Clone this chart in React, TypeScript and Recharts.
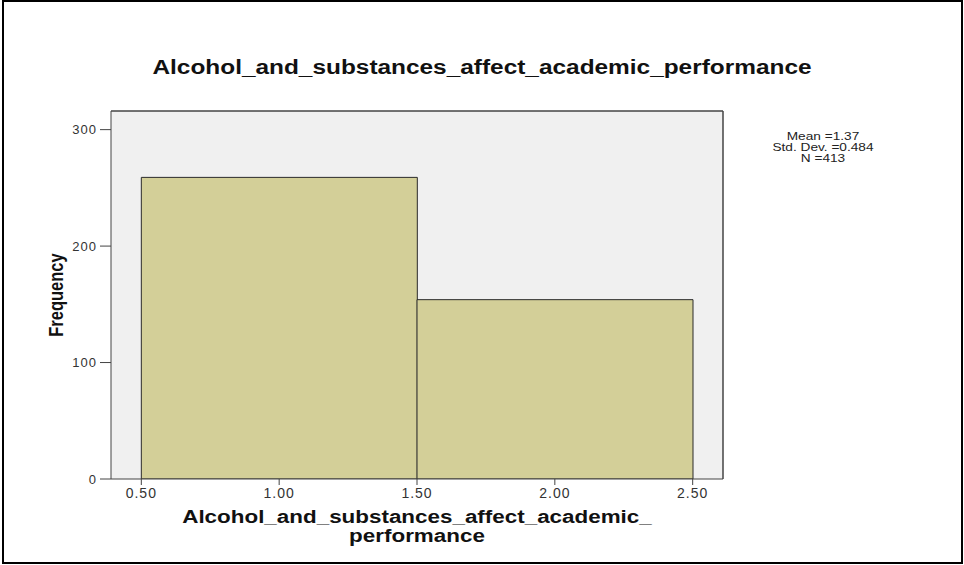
import React from 'react';
import { ComposedChart, Bar, XAxis, YAxis, CartesianGrid, ReferenceLine } from 'recharts';

// histogram bins: centre of each bin and its count
const binMids = [1.0, 2.0];
const binCounts = [259, 154];

const xDomain = [0.39, 2.61];
const yDomain = [0, 316];
const xTicks = [0.5, 1.0, 1.5, 2.0, 2.5];
const yTicks = [0, 100, 200, 300];

const title = 'Alcohol_and_substances_affect_academic_performance';
const xLabelLines = ['Alcohol_and_substances_affect_academic_', 'performance'];
const yLabel = 'Frequency';
const statsLines = ['Mean =1.37', 'Std. Dev. =0.484', 'N =413'];

const data = binMids.map((mid, i) => ({ mid, count: binCounts[i] }));

const FONT = 'Arial, "Liberation Sans", Helvetica, sans-serif';

export default function App() {
  return (
    <div style={{ position: 'absolute', left: 0, top: 0, width: 964, height: 565, background: '#fff', fontFamily: FONT }}>
      <div style={{ position: 'absolute', left: 2, top: 0, width: 961, height: 564, border: '2px solid #000', boxSizing: 'border-box' }} />

      <ComposedChart
        width={964}
        height={565}
        data={data}
        margin={{ top: 111, right: 241, bottom: 56, left: 51 }}
        barCategoryGap={0}
        barGap={0}
        style={{ position: 'absolute', left: 0, top: 0 }}
      >
        <CartesianGrid fill="#f0f0f0" horizontal={false} vertical={false} />
        <XAxis
          dataKey="mid"
          type="number"
          domain={xDomain}
          ticks={xTicks}
          allowDataOverflow
          tickFormatter={(v: number) => v.toFixed(2)}
          height={30}
          tickSize={6}
          tickMargin={3}
          stroke="#444"
          tick={{ fill: '#333', fontSize: 14, letterSpacing: 1, fontFamily: FONT }}
        />
        <YAxis
          domain={yDomain}
          ticks={yTicks}
          allowDataOverflow
          width={60}
          tickSize={11}
          tickMargin={3}
          stroke="#444"
          tick={{ fill: '#333', fontSize: 13, letterSpacing: 1, fontFamily: FONT }}
        />
        <Bar dataKey="count" fill="#d3cf98" stroke="#2a2a2a" strokeWidth={1} isAnimationActive={false} />
        <ReferenceLine y={yDomain[1]} stroke="#444" strokeWidth={1.5} ifOverflow="visible" />
        <ReferenceLine x={xDomain[1]} stroke="#444" strokeWidth={1.5} ifOverflow="visible" />
      </ComposedChart>

      <div style={{ position: 'absolute', left: 0, width: 964, top: 56, textAlign: 'center', fontSize: 20, fontWeight: 'bold', color: '#111', transform: 'scaleX(1.22)' }}>
        {title}
      </div>

      <div style={{ position: 'absolute', left: 111, width: 612, top: 508, textAlign: 'center', fontSize: 18, fontWeight: 'bold', color: '#111', lineHeight: '19px', transform: 'scaleX(1.245)' }}>
        {xLabelLines.map((l) => (
          <div key={l}>{l}</div>
        ))}
      </div>

      <div
        style={{
          position: 'absolute',
          left: 56,
          top: 295,
          transform: 'translate(-50%, -50%) scaleX(1.25) rotate(-90deg)',
          fontSize: 16.5,
          fontWeight: 'bold',
          color: '#111',
          whiteSpace: 'nowrap',
        }}
      >
        {yLabel}
      </div>

      <div style={{ position: 'absolute', left: 773, width: 100, top: 131, textAlign: 'center', fontSize: 10.5, lineHeight: '11px', color: '#222', transform: 'scaleX(1.3)' }}>
        {statsLines.map((l) => (
          <div key={l}>{l}</div>
        ))}
      </div>
    </div>
  );
}
